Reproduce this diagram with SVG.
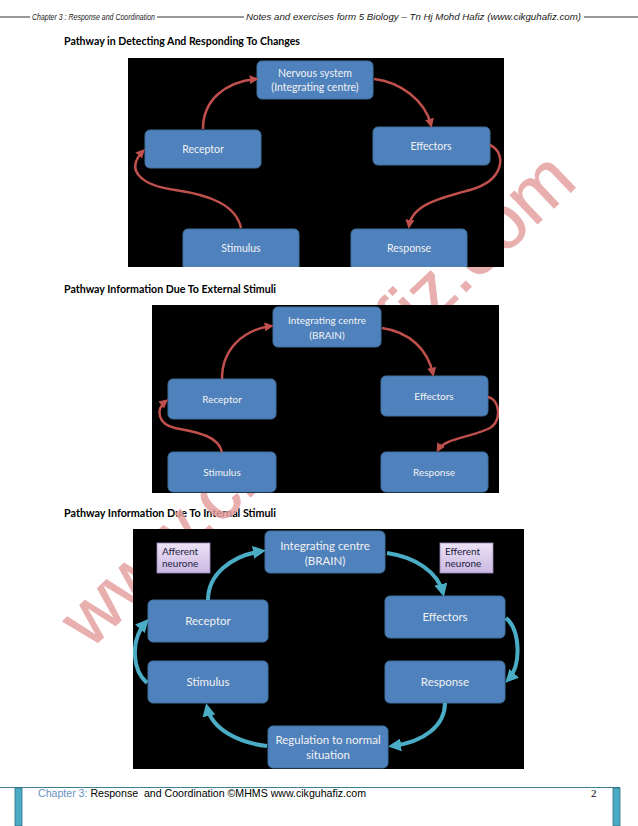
<svg xmlns="http://www.w3.org/2000/svg" width="638" height="826" viewBox="0 0 638 826">
<style>
.hdr{font-family:"Liberation Sans",Arial,sans-serif;font-style:italic;font-size:8.5px;fill:#1a1a1a}
.ttl{font-family:Lato,"Liberation Sans",sans-serif;font-weight:bold;font-size:11px;fill:#000}
.box{fill:#4f81bd;stroke:#41719c;stroke-width:1}
.bt{font-family:Lato,"Liberation Sans",sans-serif;font-size:10px;fill:#f2f2f2;text-anchor:middle}
.bt1{font-family:Lato,"Liberation Sans",sans-serif;font-size:10.5px;fill:#f2f2f2;text-anchor:middle}
.bt3{font-family:Lato,"Liberation Sans",sans-serif;font-size:11.5px;fill:#f2f2f2;text-anchor:middle}
.lab{font-family:Lato,"Liberation Sans",sans-serif;font-size:10px;fill:#23233f}
.red{fill:none;stroke:#c0504d;stroke-width:2.5}
.cyan{fill:none;stroke:#4bacc6;stroke-width:4}
.wm{font-family:"Liberation Sans",Arial,sans-serif;font-size:75px;fill:#e6a0a0;stroke:#e6a0a0;stroke-width:0.8;opacity:0.85}
.ft{font-family:"Liberation Sans",Arial,sans-serif;font-size:10.5px;fill:#000}
</style>
<defs>
<marker id="ar" viewBox="0 0 10 10" refX="7" refY="5" markerWidth="9" markerHeight="9" markerUnits="userSpaceOnUse" orient="auto">
<path d="M0,0 L10,5 L0,10 z" fill="#c0504d"/>
</marker>
<marker id="ac" viewBox="0 0 10 10" refX="7" refY="5" markerWidth="13" markerHeight="13" markerUnits="userSpaceOnUse" orient="auto">
<path d="M0,0 L10,5 L0,10 z" fill="#4bacc6"/>
</marker>
<linearGradient id="lav" x1="0" y1="0" x2="0" y2="1">
<stop offset="0" stop-color="#ece2f6"/>
<stop offset="1" stop-color="#cbb8e2"/>
</linearGradient>
<clipPath id="c1"><rect x="128" y="58" width="376" height="209"/></clipPath>
<clipPath id="c2"><rect x="152" y="305" width="347" height="188"/></clipPath>
<clipPath id="c3"><rect x="133" y="529" width="391" height="240"/></clipPath>
</defs>
<rect width="638" height="826" fill="#fff"/>

<g id="header">
<line x1="0" y1="17" x2="30" y2="17" stroke="#000" stroke-width="0.8"/>
<text class="hdr" x="32" y="20" textLength="123" lengthAdjust="spacingAndGlyphs">Chapter 3 : Response and Coordination</text>
<line x1="157" y1="17" x2="244" y2="17" stroke="#000" stroke-width="0.8"/>
<text class="hdr" x="246" y="20" textLength="335" lengthAdjust="spacingAndGlyphs">Notes and exercises form 5 Biology – Tn Hj Mohd Hafiz (www.cikguhafiz.com)</text>
<line x1="584" y1="17" x2="638" y2="17" stroke="#000" stroke-width="0.8"/>
</g>

<g id="titles">
<text class="ttl" x="64" y="45" textLength="236" lengthAdjust="spacingAndGlyphs">Pathway in Detecting And Responding To Changes</text>
<text class="ttl" x="64" y="293" textLength="212" lengthAdjust="spacingAndGlyphs">Pathway Information Due To External Stimuli</text>
<text class="ttl" x="64" y="517" textLength="212" lengthAdjust="spacingAndGlyphs">Pathway Information Due To Internal Stimuli</text>
</g>

<g id="watermark">
<text class="wm" x="90" y="650" transform="rotate(-43.6 90 650)">www.cikguhafiz.com</text>
</g>

<!-- Diagram 1 -->
<g id="diagram1" clip-path="url(#c1)">
<rect x="128" y="58" width="376" height="209" fill="#000"/>
<g id="d1-nervous"><rect class="box" x="257" y="61" width="116" height="38" rx="5"/>
<text class="bt1" x="315" y="77">Nervous system</text><text class="bt1" x="315" y="91">(Integrating centre)</text></g>
<g id="d1-receptor"><rect class="box" x="145" y="130" width="116" height="38" rx="5"/><text class="bt1" x="203" y="153">Receptor</text></g>
<g id="d1-effectors"><rect class="box" x="373" y="127" width="117" height="38" rx="5"/><text class="bt1" x="431" y="150">Effectors</text></g>
<g id="d1-stimulus"><rect class="box" x="183" y="229" width="116" height="44" rx="5"/><text class="bt1" x="241" y="252">Stimulus</text></g>
<g id="d1-response"><rect class="box" x="351" y="229" width="116" height="44" rx="5"/><text class="bt1" x="409" y="252">Response</text></g>
<g id="d1-connectors">
<path class="red" marker-end="url(#ar)" d="M203,129 C203,100 225,82 256,79"/>
<path class="red" marker-end="url(#ar)" d="M374,79 C400,82 425,100 431,125"/>
<path class="red" marker-end="url(#ar)" d="M490,145 C506,152 506,180 470,190 C440,198 412,205 409,226"/>
<path class="red" marker-end="url(#ar)" d="M241,228 C236,205 210,195 175,190 C140,185 125,170 143,151"/>
</g>
</g>

<!-- Diagram 2 -->
<g id="diagram2" clip-path="url(#c2)">
<rect x="152" y="305" width="347" height="188" fill="#000"/>
<g id="d2-integrating"><rect class="box" x="273" y="307" width="108" height="40" rx="5"/>
<text class="bt" x="327" y="324">Integrating centre</text><text class="bt" x="327" y="339">(BRAIN)</text></g>
<g id="d2-receptor"><rect class="box" x="168" y="379" width="108" height="40" rx="5"/><text class="bt" x="222" y="403">Receptor</text></g>
<g id="d2-effectors"><rect class="box" x="381" y="376" width="107" height="40" rx="5"/><text class="bt" x="434" y="400">Effectors</text></g>
<g id="d2-stimulus"><rect class="box" x="168" y="452" width="108" height="40" rx="5"/><text class="bt" x="222" y="476">Stimulus</text></g>
<g id="d2-response"><rect class="box" x="381" y="452" width="107" height="40" rx="5"/><text class="bt" x="434" y="476">Response</text></g>
<g id="d2-connectors">
<path class="red" marker-end="url(#ar)" d="M222,379 C222,350 242,330 271,326"/>
<path class="red" marker-end="url(#ar)" d="M382,328 C410,332 428,350 433,374"/>
<path class="red" marker-end="url(#ar)" d="M488,397 C500,400 502,420 490,428 C470,438 445,438 438,450"/>
<path class="red" marker-end="url(#ar)" d="M222,452 C218,435 195,432 175,428 C158,424 155,410 166,401"/>
</g>
</g>

<!-- Diagram 3 -->
<g id="diagram3" clip-path="url(#c3)">
<rect x="133" y="529" width="391" height="240" fill="#000"/>
<g id="d3-afferent"><rect x="157" y="543" width="53" height="30" fill="url(#lav)" stroke="#9c88b8" stroke-width="0.8"/>
<text class="lab" x="162" y="555">Afferent</text><text class="lab" x="162" y="567">neurone</text></g>
<g id="d3-efferent"><rect x="440" y="543" width="53" height="30" fill="url(#lav)" stroke="#9c88b8" stroke-width="0.8"/>
<text class="lab" x="445" y="555">Efferent</text><text class="lab" x="445" y="567">neurone</text></g>
<g id="d3-integrating"><rect class="box" x="265" y="531" width="120" height="42" rx="5"/>
<text class="bt3" x="325" y="550">Integrating centre</text><text class="bt3" x="325" y="565">(BRAIN)</text></g>
<g id="d3-receptor"><rect class="box" x="148" y="600" width="120" height="42" rx="5"/><text class="bt3" x="208" y="625">Receptor</text></g>
<g id="d3-effectors"><rect class="box" x="385" y="596" width="120" height="42" rx="5"/><text class="bt3" x="445" y="621">Effectors</text></g>
<g id="d3-stimulus"><rect class="box" x="148" y="661" width="120" height="42" rx="5"/><text class="bt3" x="208" y="686">Stimulus</text></g>
<g id="d3-response"><rect class="box" x="385" y="661" width="120" height="42" rx="5"/><text class="bt3" x="445" y="686">Response</text></g>
<g id="d3-regulation"><rect class="box" x="268" y="726" width="120" height="42" rx="5"/>
<text class="bt3" x="328" y="744">Regulation to normal</text><text class="bt3" x="328" y="759">situation</text></g>
<g id="d3-connectors">
<path class="cyan" marker-end="url(#ac)" d="M208,600 C208,575 230,556 262,551"/>
<path class="cyan" marker-end="url(#ac)" d="M387,553 C415,557 438,572 443,593"/>
<path class="cyan" marker-end="url(#ac)" d="M506,618 C520,630 522,665 508,680"/>
<path class="cyan" marker-end="url(#ac)" d="M445,703 C445,725 425,742 392,746"/>
<path class="cyan" marker-end="url(#ac)" d="M267,746 C240,743 212,730 207,707"/>
<path class="cyan" marker-end="url(#ac)" d="M147,683 C132,670 130,640 146,622"/>
</g>
</g>

<g id="footer">
<line x1="0" y1="787.5" x2="620" y2="787.5" stroke="#3f7f93" stroke-width="1"/>
<rect x="15" y="788" width="7" height="38" fill="#4bacc6" stroke="#2f6f82" stroke-width="0.8"/>
<rect x="613" y="788" width="7" height="38" fill="#4bacc6" stroke="#2f6f82" stroke-width="0.8"/>
<text class="ft" x="38" y="797" textLength="328" lengthAdjust="spacingAndGlyphs" style="white-space:pre"><tspan fill="#6a8fc2">Chapter 3: </tspan>Response  and Coordination ©MHMS www.cikguhafiz.com</text>
<text x="591" y="797" font-family="Liberation Serif,serif" font-size="11" fill="#000">2</text>
</g>
</svg>
